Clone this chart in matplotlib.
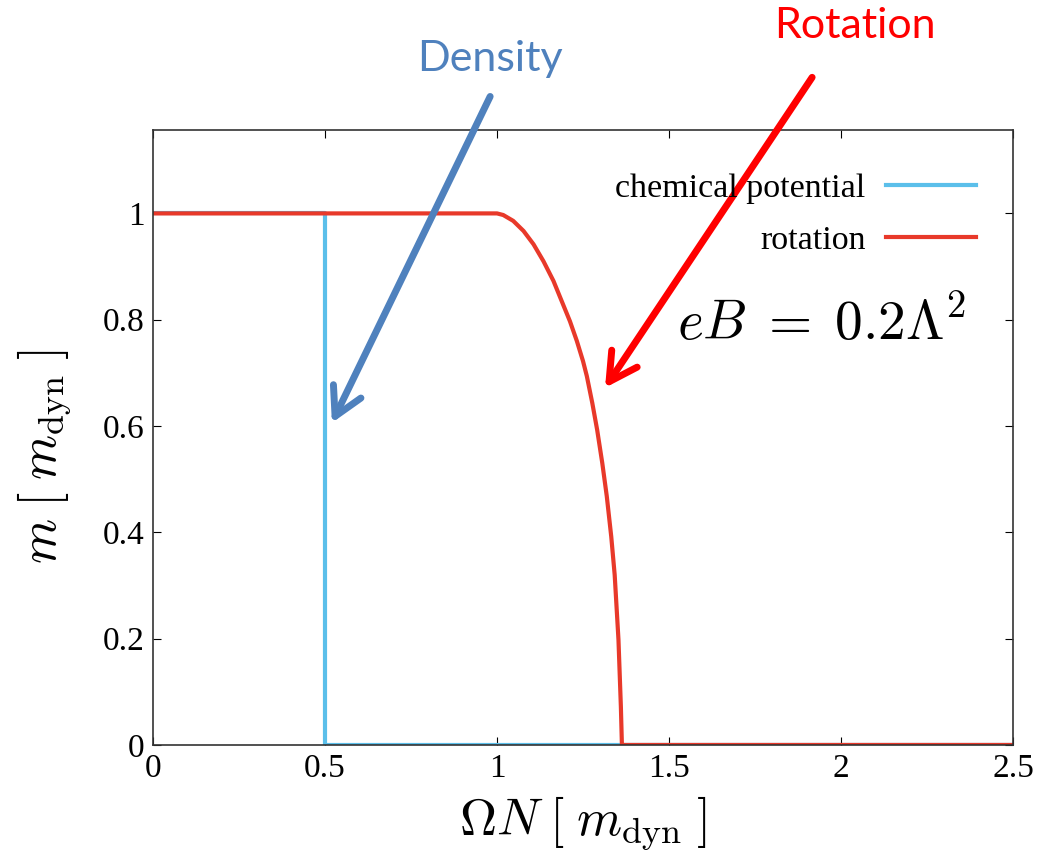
import numpy as np
import matplotlib
matplotlib.use('Agg')
import matplotlib.pyplot as plt

plt.rcParams['mathtext.fontset'] = 'cm'
plt.rcParams['font.family'] = 'Liberation Serif'

# values
chem_x = [0.0, 0.5, 0.5, 2.5]
chem_y = [1.0, 1.0, 0.0, 0.0]

rot_x = [0.0, 1.0, 1.018, 1.047, 1.077, 1.106, 1.135, 1.164, 1.188, 1.212,
         1.232, 1.250, 1.261, 1.277, 1.291, 1.306, 1.319, 1.332, 1.342,
         1.353, 1.360, 1.363, 2.5]
rot_y = [1.0, 1.0, 0.997, 0.986, 0.967, 0.942, 0.910, 0.873, 0.835, 0.797,
         0.760, 0.722, 0.694, 0.643, 0.593, 0.530, 0.468, 0.392, 0.320,
         0.198, 0.072, 0.0, 0.0]

xticks = [0, 0.5, 1, 1.5, 2, 2.5]
xticklabels = ['0', '0.5', '1', '1.5', '2', '2.5']
yticks = [0, 0.2, 0.4, 0.6, 0.8, 1]
yticklabels = ['0', '0.2', '0.4', '0.6', '0.8', '1']

CHEM_COLOR = '#5bbfea'
ROT_COLOR = '#e8392a'
DENS_ARROW = '#4f81bd'
ROT_ARROW = '#ff0000'


def main():
    fig = plt.figure(figsize=(10.39, 8.55), dpi=100)
    ax = fig.add_axes([0.1473, 0.1287, 0.8277, 0.7193])

    ax.plot(chem_x, chem_y, color=CHEM_COLOR, lw=3.0, label='chemical potential')
    ax.plot(rot_x, rot_y, color=ROT_COLOR, lw=3.0, label='rotation')

    ax.set_xlim(0, 2.5)
    ax.set_ylim(0, 1.157)
    ax.set_xticks(xticks)
    ax.set_xticklabels(xticklabels)
    ax.set_yticks(yticks)
    ax.set_yticklabels(yticklabels)
    ax.tick_params(direction='in', length=6, width=0.8, top=True, right=True,
                   labelsize=24, pad=6)
    for sp in ax.spines.values():
        sp.set_linewidth(1.2)
        sp.set_color('#333333')

    ax.set_xlabel(r'$\Omega N\;[\;m_{\rm dyn}\;]$', fontsize=37, labelpad=8)
    ax.set_ylabel(r'$m\;[\;m_{\rm dyn}\;]$', fontsize=37)
    ax.yaxis.set_label_coords(-0.092, 0.468)

    ax.legend(loc='upper right', bbox_to_anchor=(0.957, 0.93), frameon=False,
              markerfirst=False, fontsize=24.5, handlelength=2.65,
              handletextpad=0.6, labelspacing=0.62, borderpad=0, borderaxespad=0)

    ax.text(1.942, 0.79, r'$eB\;=\;0.2\Lambda^2$', fontsize=40, ha='center', va='center')

    # annotation arrows
    head = '->,head_length=1.0,head_width=0.55'
    ax.annotate('', xy=(0.520, 0.606), xytext=(0.980, 1.220), annotation_clip=False,
                arrowprops=dict(arrowstyle=head, mutation_scale=20,
                                color=DENS_ARROW, lw=5, shrinkA=0, shrinkB=0))
    ax.annotate('', xy=(1.314, 0.672), xytext=(1.916, 1.256), annotation_clip=False,
                arrowprops=dict(arrowstyle=head, mutation_scale=20,
                                color=ROT_ARROW, lw=5, shrinkA=0, shrinkB=0))
    ax.text(0.980, 1.290, 'Density', color=DENS_ARROW, fontsize=31,
            family='Lato', ha='center', va='center', clip_on=False)
    ax.text(2.041, 1.352, 'Rotation', color=ROT_ARROW, fontsize=31,
            family='Lato', ha='center', va='center', clip_on=False)

    fig.savefig('out.png', dpi=100)
    plt.close(fig)


if __name__ == '__main__':
    main()
